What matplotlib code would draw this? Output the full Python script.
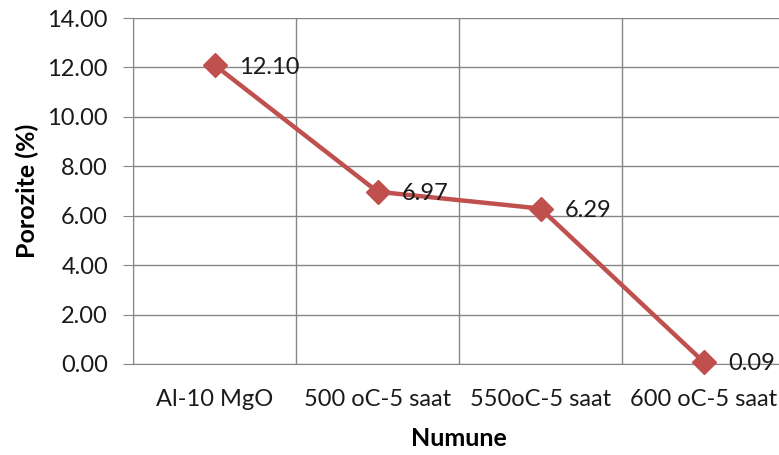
import numpy as np
import matplotlib
matplotlib.use("Agg")
import matplotlib.pyplot as plt

samples = ["Al-10 MgO", "500 oC-5 saat", "550oC-5 saat", "600 oC-5 saat"]
porosity = [12.10, 6.97, 6.29, 0.09]
yticks = [0, 2, 4, 6, 8, 10, 12, 14]

plt.rcParams["font.family"] = ["Lato", "DejaVu Sans"]
grid_c = "#868686"
line_c = "#C0504D"
txt_c = "#1a1a1a"

fig = plt.figure(figsize=(7.79, 4.55), dpi=100)
ax = fig.add_axes([133 / 779, 91 / 455, 652 / 779, (364 - 18) / 455])

x = np.arange(len(samples))
ax.plot(x, porosity, color=line_c, lw=3.2, marker="D", ms=12,
        mfc=line_c, mec=line_c, zorder=3, clip_on=False)
for xi, v in zip(x, porosity):
    ax.annotate(f"{v:.2f}", (xi, v), xytext=(17.5, -1.5), textcoords="offset points",
                ha="left", va="center", fontsize=17, color=txt_c, zorder=4)

ax.set_xlim(-0.5, len(samples) - 0.5)
ax.set_ylim(0, 14)
ax.set_yticks(yticks)
ax.set_yticklabels([f"{t:.2f}" for t in yticks])
ax.set_xticks(x)
ax.set_xticklabels(samples)
ax.set_xticks(np.arange(len(samples) + 1) - 0.5, minor=True)

ax.grid(axis="y", which="major", color=grid_c, lw=1)
ax.grid(axis="x", which="minor", color=grid_c, lw=1)
ax.grid(axis="x", which="major", visible=False)
ax.set_axisbelow(True)

for s in ["top", "right"]:
    ax.spines[s].set_visible(False)
ax.spines["left"].set_color(grid_c)
ax.spines["bottom"].set_color(grid_c)
ax.tick_params(axis="y", which="major", length=7, color=grid_c, labelsize=17,
               labelcolor=txt_c, pad=11)
ax.tick_params(axis="x", which="both", length=0, labelsize=17,
               labelcolor=txt_c, pad=18)

ax.set_ylabel("Porozite (%)", fontsize=18, fontweight="bold", labelpad=6)
ax.set_xlabel("Numune", fontsize=18, fontweight="bold", labelpad=12)

fig.savefig("out.png", dpi=100)
